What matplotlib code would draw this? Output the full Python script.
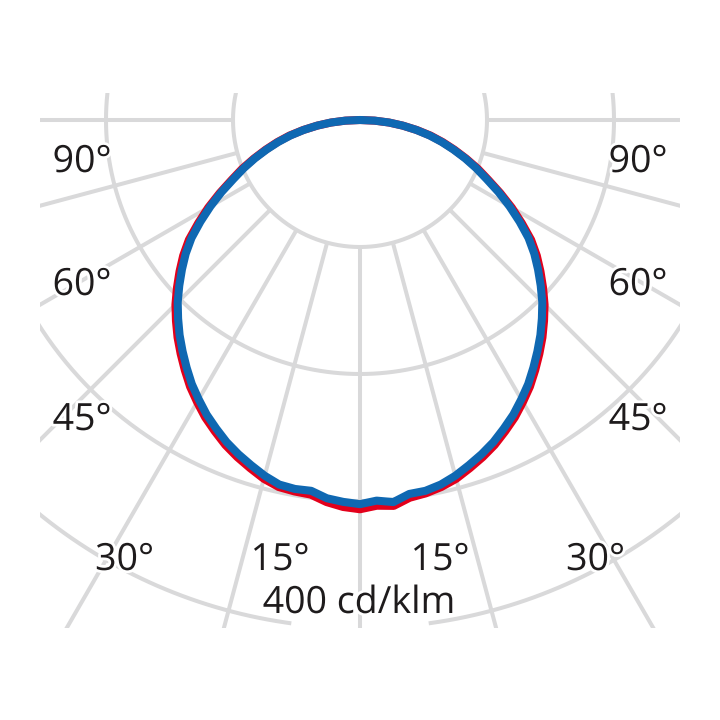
import numpy as np
import matplotlib
matplotlib.use("Agg")
import matplotlib.pyplot as plt
import matplotlib.patheffects as pe
from matplotlib.patches import Rectangle

# ---- data (cd/klm) ----
gamma = [-90, -87.5, -85, -82.5, -80, -77.5, -75, -72.5, -70, -67.5, -65, -62.5,
         -60, -57.5, -55, -52.5, -50, -47.5, -45, -42.5, -40, -37.5, -35, -32.5,
         -30, -27.5, -25, -22.5, -20, -17.5, -15, -12.5, -10, -7.5, -5, -2.5,
         0, 2.5, 5, 7.5, 10, 12.5, 15, 17.5, 20, 22.5, 25, 27.5,
         30, 32.5, 35, 37.5, 40, 42.5, 45, 47.5, 50, 52.5, 55, 57.5,
         60, 62.5, 65, 67.5, 70, 72.5, 75, 77.5, 80, 82.5, 85, 87.5, 90]
blue_I = [0, 11.5, 23, 34, 45, 56, 66.5, 77, 88, 99, 110, 123,
          136, 149, 162, 173, 183, 193, 203, 212, 221, 229.5, 238, 246.5,
          254, 261.5, 268, 274.5, 280, 285, 290, 294, 295, 294.5, 299, 301,
          302.5, 300, 302, 297, 296.5, 294, 290, 285, 280, 274.5, 268, 261.5,
          254, 246.5, 238, 229.5, 221, 212, 203, 193, 183, 173, 162, 149,
          136, 123, 110, 99, 88, 77, 66.5, 56, 45, 34, 23, 11.5, 0]
red_I = [0, 11.5, 23, 34, 45.5, 57, 67.5, 78, 89, 100.5, 111.5, 124.5,
         138, 151, 164.5, 175.5, 185.5, 195.5, 205.5, 214.5, 223.5, 232, 240.5, 249,
         256.5, 264, 270.5, 277, 282.5, 287.5, 292.5, 296, 297, 297.5, 302, 305,
         306.5, 304, 305, 300, 298.5, 296, 292.5, 287.5, 282.5, 277, 270.5, 264,
         256.5, 249, 240.5, 232, 223.5, 214.5, 205.5, 195.5, 185.5, 175.5, 164.5, 151,
         138, 124.5, 111.5, 100.5, 89, 78, 67.5, 57, 45.5, 34, 23, 11.5, 0]

ring_values = [100, 200, 300, 400]
spoke_angles = [-90, -75, -60, -45, -30, -15, 0, 15, 30, 45, 60, 75, 90]
angle_labels = ["90°", "60°", "45°", "30°", "15°"]
scale_label = "400 cd/klm"

# ---- figure ----
S = 1.27  # px per cd/klm
fig = plt.figure(figsize=(7.2, 7.2), dpi=100)
ax = fig.add_axes([0, 0, 1, 1])
ax.set_xlim(-360 / S, 360 / S)
ax.set_ylim(-600 / S, 120 / S)
ax.set_aspect('equal')
ax.axis('off')

clip = Rectangle((-252, -400), 504, 421, transform=ax.transData, facecolor='none', edgecolor='none')
ax.add_patch(clip)

grid_c = '#d9d9da'
glw = 2.9
t = np.radians(np.linspace(-180, 180, 721))
for rv in ring_values:
    th = t.copy()
    if rv == 400:
        th = np.where(np.abs(np.degrees(th)) < 7.8, np.nan, th)
    ln, = ax.plot(rv * np.sin(th), -rv * np.cos(th), color=grid_c, lw=glw, zorder=1)
    ln.set_clip_path(clip)
for a in spoke_angles:
    ar = np.radians(a)
    ln, = ax.plot([100 * np.sin(ar), 800 * np.sin(ar)], [-100 * np.cos(ar), -800 * np.cos(ar)],
                  color=grid_c, lw=glw, zorder=1, solid_capstyle='butt')
    ln.set_clip_path(clip)

g = np.radians(gamma)
rI = np.array(red_I)
bI = np.array(blue_I)
ax.plot(rI * np.sin(g), -rI * np.cos(g), color='#e3001b', lw=5.8, zorder=3,
        solid_joinstyle='round', solid_capstyle='round')
ax.plot(bI * np.sin(g), -bI * np.cos(g), color='#0f68b2', lw=5.8, zorder=4,
        solid_joinstyle='round', solid_capstyle='round')

def px(x):
    return (x - 360) / S

def py(y):
    return (120 - y) / S

tc = '#1e1b1c'
fs = 27
halo = [pe.withStroke(linewidth=4, foreground='white')]
fam = ['Open Sans', 'DejaVu Sans']
left_pos = [(82, 172), (82, 295), (82, 430), (124.5, 570), (280, 570)]
for lab, (x, y) in zip(angle_labels, left_pos):
    for xx in (x, 720 - x):
        ax.text(px(xx), py(y), lab, ha='center', va='baseline', fontsize=fs, color=tc,
                family=fam, zorder=5, path_effects=halo)
ax.text(px(359), py(613), scale_label, ha='center', va='baseline', fontsize=fs, color=tc,
        family=fam, zorder=5, path_effects=halo)

fig.savefig('out.png', dpi=100, facecolor='white')
